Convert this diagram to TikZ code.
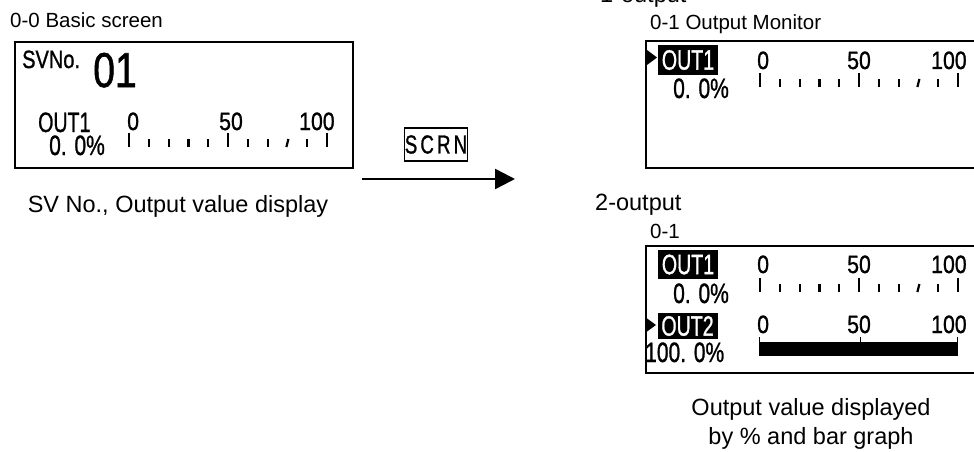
\documentclass[tikz,border=0pt]{standalone}
\usepackage{fontspec}
\setmainfont{Liberation Sans}
\newfontfamily\lcdfont[FakeBold=1.2]{Liberation Sans}
\usetikzlibrary{arrows.meta,positioning,calc}

% condensed text of the panel display: scale, size, text
\newcommand{\lcd}[3]{\scalebox{#1}[1]{\lcdfont\fontsize{#2}{#2}\selectfont #3}}
% scale of eleven ticks: first x, bottom y
\newcommand{\scaleticks}[2]{%
  \foreach \i in {0,...,10}{
    \pgfmathsetmacro{\tx}{#1+19.8*\i}
    \ifnum\i=0 \def\th{14}\else\ifnum\i=5 \def\th{14}\else\ifnum\i=10 \def\th{14}\else\def\th{8}\fi\fi\fi
    \ifnum\i=8
      \draw[tk] ($(\tx,#2)+(-1,0)$) -- ($(\tx,#2-\th)+(1,0)$);
    \else
      \draw[tk] (\tx,#2) -- (\tx,#2-\th);
    \fi
  }%
}

\tikzset{
  lbl/.style={anchor=base west,inner sep=0pt,font=\fontsize{20.5}{24}\selectfont},
  captxt/.style={inner sep=0pt,font=\fontsize{23.5}{29}\selectfont,align=center},
  screen/.style={draw,line width=2pt,anchor=north west,inner sep=0pt},
  hilite/.style={fill=black,text=white,inner sep=0pt,minimum width=60pt},
  lcdtxt/.style={anchor=base west,inner sep=0pt},
  tk/.style={line width=2.2pt},
}

\begin{document}
\begin{tikzpicture}[x=1pt,y=-1pt]
  \clip (0,0) rectangle (974,452);

  % basic screen
  \node[lbl] (basicT) at (10,28) {0-0 Basic screen};
  \node[screen,minimum width=338pt,minimum height=126pt] (basic) at (14,41) {};
  \node[lcdtxt] (svno) at (22,68) {\lcd{0.8}{25}{SVNo.}};
  \node[lcdtxt] (svnum) at (93,87) {\lcd{0.8}{49}{01}};
  \node[lcdtxt] (outA) at (38,132) {\lcd{0.7}{28}{OUT1}};
  \node[lcdtxt] (pctA) at (49,155) {\lcd{0.75}{28}{0. 0\%}};
  \node[lcdtxt] (a0) at (127,130) {\lcd{0.85}{25}{0}};
  \node[lcdtxt] (a50) at (219,130) {\lcd{0.85}{25}{50}};
  \node[lcdtxt] (a100) at (299,130) {\lcd{0.85}{25}{100}};
  \scaleticks{129}{147}
  \node[captxt] (basicC) at (178,206) {SV No., Output value display};

  % key and arrow
  \node[draw,line width=1.3pt,minimum width=56pt,minimum height=33pt,inner sep=0pt] (scrn) at (436,144.5) {\lcd{0.72}{26}{S\,C\,R\,N}};
  \coordinate (arrS) at (362,179);
  \coordinate (arrE) at (515,179);
  \draw[line width=2.5pt,-{Triangle[length=20pt,width=20pt]}] (arrS) -- (arrE);

  % 1-output
  \node[captxt,anchor=base west] (one) at (600,3) {1-output};
  \node[lbl] (monT) at (650,30) {0-1 Output Monitor};
  \node[screen,minimum width=345pt,minimum height=127pt] (mon) at (645,40) {};
  \fill (647,50) -- (657,57.5) -- (647,65) -- cycle;
  \node[hilite,minimum height=30pt] (outB) at (688,60) {\lcd{0.7}{28}{OUT1}};
  \node[lcdtxt] (pctB) at (673,98) {\lcd{0.75}{28}{0. 0\%}};
  \node[lcdtxt] (b0) at (757,69) {\lcd{0.85}{25}{0}};
  \node[lcdtxt] (b50) at (847,69) {\lcd{0.85}{25}{50}};
  \node[lcdtxt] (b100) at (931,69) {\lcd{0.85}{25}{100}};
  \scaleticks{760}{87}

  % 2-output
  \node[captxt,anchor=base west] (two) at (595,210) {2-output};
  \node[lbl] (twoT) at (650,238) {0-1};
  \node[screen,minimum width=345pt,minimum height=127pt] (dual) at (645,245) {};
  \node[hilite,minimum height=29pt] (outC) at (688,264.5) {\lcd{0.7}{28}{OUT1}};
  \node[lcdtxt] (pctC) at (673,303) {\lcd{0.75}{28}{0. 0\%}};
  \node[lcdtxt] (c0) at (757,273) {\lcd{0.85}{25}{0}};
  \node[lcdtxt] (c50) at (847,273) {\lcd{0.85}{25}{50}};
  \node[lcdtxt] (c100) at (931,273) {\lcd{0.85}{25}{100}};
  \scaleticks{760}{292}
  \fill (645,317) -- (656,325) -- (645,333) -- cycle;
  \node[hilite,minimum height=26pt] (outD) at (687.5,326) {\lcd{0.7}{28}{OUT2}};
  \node[lcdtxt] (pctD) at (645,362) {\lcd{0.75}{28}{100. 0\%}};
  \node[lcdtxt] (d0) at (757,333) {\lcd{0.85}{25}{0}};
  \node[lcdtxt] (d50) at (847,333) {\lcd{0.85}{25}{50}};
  \node[lcdtxt] (d100) at (931,333) {\lcd{0.85}{25}{100}};
  \fill (759,342) rectangle (958,356);
  \foreach \bx in {759.5,860,957.5}{
    \draw[line width=1pt] (\bx,337) -- (\bx,342);
  }
  \node[captxt] (barC) at (811,424) {Output value displayed\\by \% and bar graph};
\end{tikzpicture}
\end{document}
